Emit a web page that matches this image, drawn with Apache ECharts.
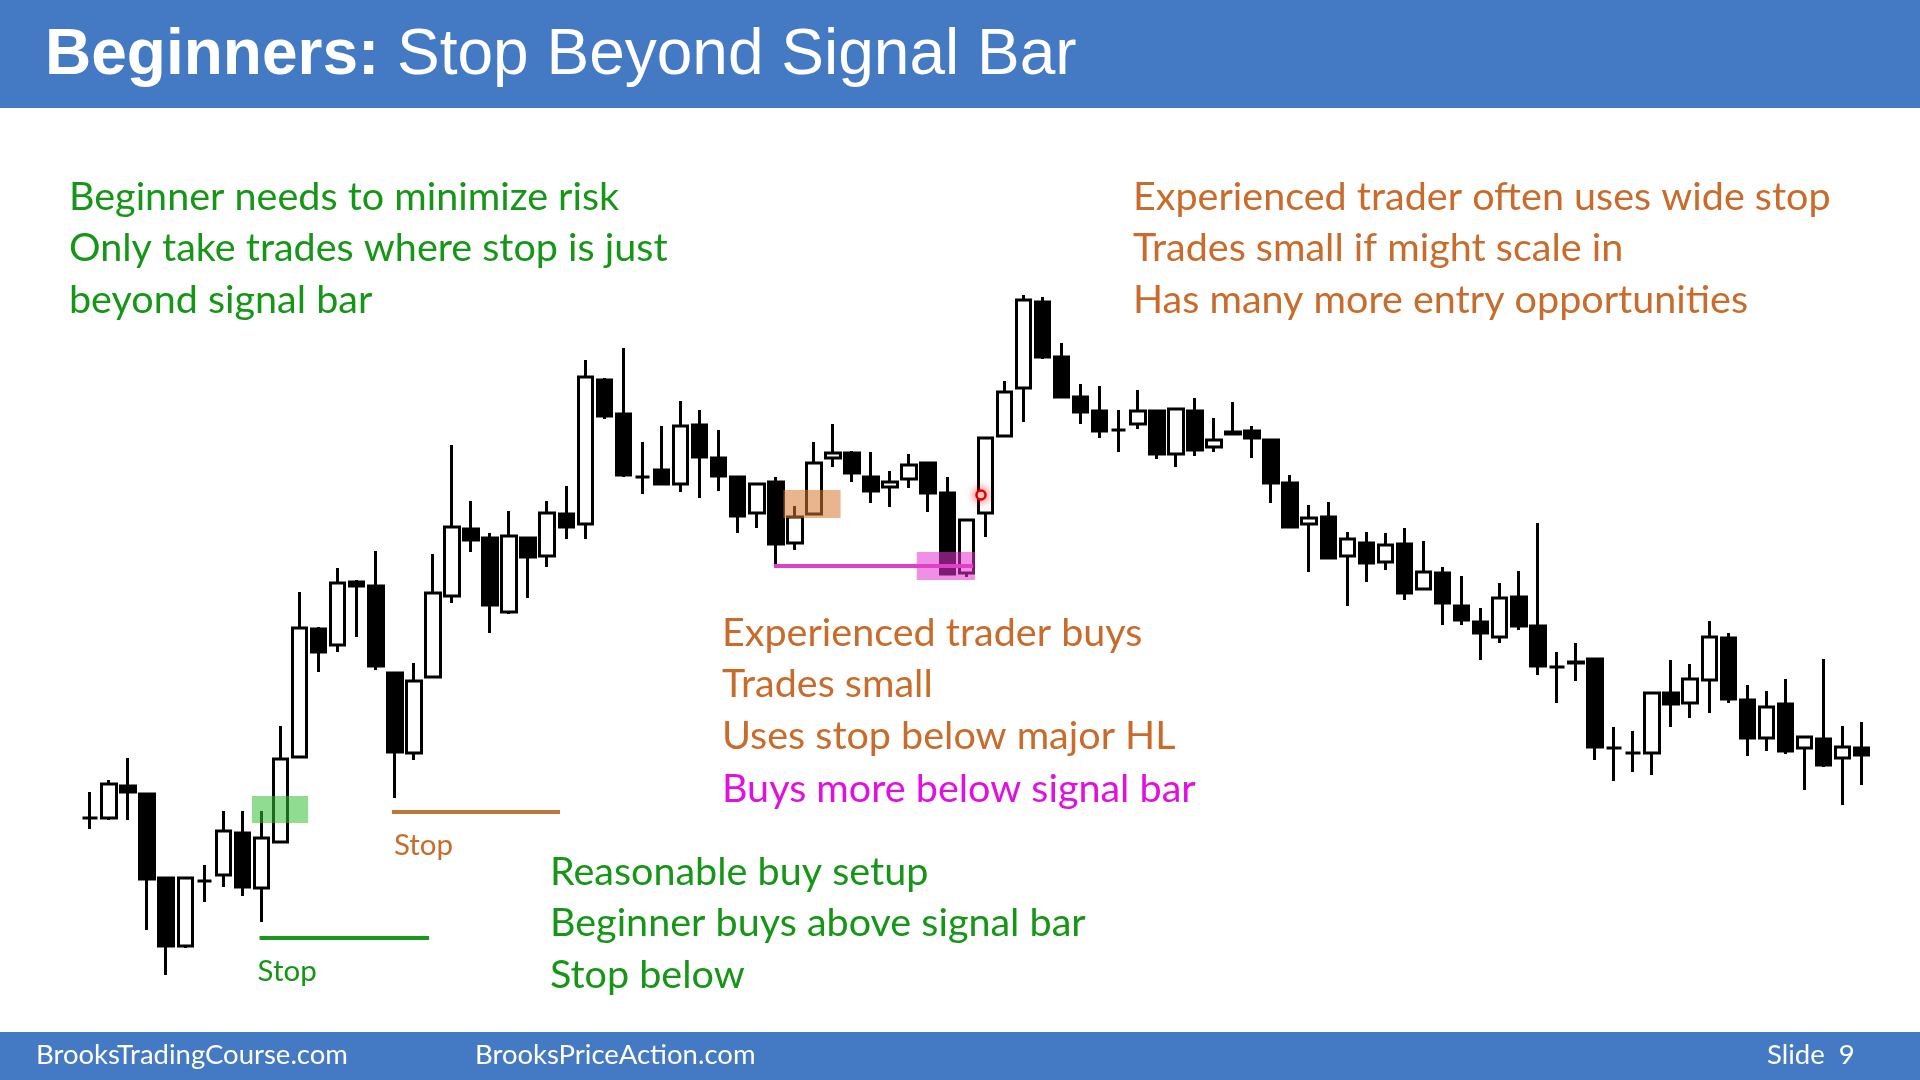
<!DOCTYPE html>
<html><head><meta charset="utf-8">
<script src="https://cdn.jsdelivr.net/npm/echarts@6/dist/echarts.min.js"></script>
<style>html,body{margin:0;padding:0;background:#fff}#c{width:1920px;height:1080px}</style>
</head><body><div id="c"></div>
<script>
// Price values (arbitrary units)
const opens  = [182,182,214,206,122,54,119,125,167,112,158,243,371,355,418,414,327,247,323,404,471,462,388,462,444,486,476,620,586,523,530,516,575,542,523,487,518,457,486,542,547,523,513,521,537,507,427,487,564,612,698,643,603,589,570,576,589,546,589,553,568,569,560,517,476,483,444,457,438,456,411,427,394,378,363,403,374,333,338,341,252,247,247,307,297,320,362,300,262,296,252,261,242,252];
const closes = [182,216,208,121,54,122,119,169,113,162,241,372,348,417,414,334,248,319,407,473,460,395,464,443,487,473,623,584,525,523,516,574,543,524,484,516,456,483,537,547,527,509,518,535,507,426,480,562,608,700,643,603,588,569,570,589,546,591,550,560,566,562,517,473,482,442,461,437,455,407,428,397,380,367,402,374,334,333,337,253,252,247,307,296,321,363,301,262,293,249,263,235,253,245];
const lows   = [171,180,180,70,25,52,98,113,104,78,158,243,328,348,363,330,202,240,323,397,448,367,386,402,433,461,461,581,523,506,515,508,502,509,467,472,434,450,486,533,518,497,493,512,488,426,423,463,564,578,641,603,576,562,548,571,541,533,544,548,565,542,497,472,428,442,394,418,430,400,410,375,375,340,357,370,325,297,319,240,219,228,225,273,282,287,297,244,249,246,210,233,195,215];
const highs  = [208,220,242,207,123,123,135,189,189,189,274,408,373,432,420,449,328,337,446,555,499,467,489,463,499,514,640,622,652,558,574,599,590,570,524,516,523,494,558,576,549,548,529,546,537,523,480,562,619,705,703,657,616,614,590,610,590,592,602,582,598,574,560,525,495,498,468,468,467,472,459,433,424,392,417,429,477,348,357,341,273,269,307,340,336,379,367,315,309,321,264,341,274,278];
const categories = opens.map((_, i) => 'Bar ' + (i + 1));

// Annotations in data coordinates: [barIndexStart, priceA, barIndexEnd, priceB]
const signalBox   = [8.5, 177, 11.45, 204];
const orangeBox   = [36.4, 482, 39.4, 510];
const magentaBox  = [43.4, 420, 46.45, 448];
const greenStop   = [8.9, 62, 17.8, 62];
const orangeStop  = [15.85, 188, 24.67, 188];
const magentaLine = [35.9, 434, 46.35, 434];
const redDot      = [46.77, 505];

const texts = {
  leftTop: ['Beginner needs to minimize risk', 'Only take trades where stop is just', 'beyond signal bar'],
  rightTop: ['Experienced trader often uses wide stop', 'Trades small if might scale in', 'Has many more entry opportunities'],
  middle: ['Experienced trader buys', 'Trades small', 'Uses stop below major HL'],
  middleMagenta: 'Buys more below signal bar',
  bottom: ['Reasonable buy setup', 'Beginner buys above signal bar', 'Stop below']
};

const GREEN = '#169616', ORANGE = '#C96B2A', MAGENTA = '#E010E0', BLUE = '#4479C4';
const FONT = 'Lato';

const chart = echarts.init(document.getElementById('c'), null, {renderer: 'canvas'});
const data = opens.map((o, i) => [o, closes[i], lows[i], highs[i]]);
chart.setOption({
  animation: false,
  backgroundColor: '#ffffff',
  grid: {left: 80.5, right: 48.8, top: 200, bottom: 80},
  xAxis: {type: 'category', data: categories, boundaryGap: true,
    axisLine: {show: false}, axisTick: {show: false}, axisLabel: {show: false}, splitLine: {show: false}},
  yAxis: {type: 'value', min: 0, max: 800, axisLine: {show: false}, axisTick: {show: false},
    axisLabel: {show: false}, splitLine: {show: false}},
  series: [{
    type: 'candlestick', data: data, barWidth: 15,
    itemStyle: {color: '#ffffff', color0: '#000000', borderColor: '#000000', borderColor0: '#000000',
      borderColorDoji: '#000000', borderWidth: 3}
  }]
});

const p0 = chart.convertToPixel({seriesIndex: 0}, [0, 0]);
const p1 = chart.convertToPixel({seriesIndex: 0}, [1, 100]);
const X = i => p0[0] + i * (p1[0] - p0[0]);
const Y = v => p0[1] + v * (p1[1] - p0[1]) / 100;

function box(b, fill) {
  const x0 = X(b[0]), x1 = X(b[2]), y0 = Y(b[1]), y1 = Y(b[3]);
  return {type: 'rect', z: 100, shape: {x: Math.min(x0, x1), y: Math.min(y0, y1), width: Math.abs(x1 - x0), height: Math.abs(y1 - y0)}, style: {fill: fill}};
}
function line(l, stroke, w) {
  return {type: 'line', z: 100, shape: {x1: X(l[0]), y1: Y(l[1]), x2: X(l[2]), y2: Y(l[3])}, style: {stroke: stroke, lineWidth: w}};
}
function txt(s, x, y, color, size, extra) {
  return Object.assign({type: 'text', z: 110, x: x, y: y,
    style: {text: s, fill: color, font: size + 'px ' + FONT, verticalAlign: 'middle', align: 'left'}}, extra || {});
}
const g = [];
g.push({type: 'rect', z: 90, shape: {x: 0, y: 0, width: 1920, height: 108}, style: {fill: BLUE}});
g.push({type: 'rect', z: 90, shape: {x: 0, y: 1032, width: 1920, height: 48}, style: {fill: BLUE}});
g.push({type: 'text', z: 110, x: 45, y: 56, style: {text: 'Beginners:', fill: '#fff', font: 'bold 64px "Liberation Sans"', verticalAlign: 'middle'}});
g.push({type: 'text', z: 110, x: 397, y: 56, style: {text: 'Stop Beyond Signal Bar', fill: '#fff', font: '64px "Liberation Sans"', verticalAlign: 'middle'}});
g.push(txt('BrooksTradingCourse.com', 36, 1055, '#fff', 27.5));
g.push(txt('BrooksPriceAction.com', 475, 1055, '#fff', 27.5));
g.push(txt('Slide  9', 1767, 1055, '#fff', 27.5));

g.push(box(signalBox, 'rgba(53,191,53,0.55)'));
g.push(box(orangeBox, 'rgba(215,120,50,0.55)'));
g.push(box(magentaBox, 'rgba(230,50,210,0.55)'));
g.push(line(greenStop, '#1A961A', 4));
g.push(line(orangeStop, '#C0783A', 4));
g.push(line(magentaLine, '#E040C8', 4));
g.push({type: 'circle', z: 120, shape: {cx: X(redDot[0]), cy: Y(redDot[1]), r: 4.5},
  style: {fill: '#fff', stroke: '#E00000', lineWidth: 2.5, shadowBlur: 10, shadowColor: 'rgba(255,0,0,0.8)'}});

const lh = 51.4, FS = 39.5;
texts.leftTop.forEach((s, i) => g.push(txt(s, 69, 197 + i * lh, GREEN, FS)));
texts.rightTop.forEach((s, i) => g.push(txt(s, 1133, 197 + i * lh, ORANGE, FS)));
texts.middle.forEach((s, i) => g.push(txt(s, 722, 633 + i * lh, ORANGE, FS)));
g.push(txt(texts.middleMagenta, 722, 789, MAGENTA, FS));
texts.bottom.forEach((s, i) => g.push(txt(s, 550, 872 + i * lh, GREEN, FS)));
g.push(txt('Stop', X(greenStop[0]) - 2, 971, GREEN, 29.5));
g.push(txt('Stop', X(orangeStop[0]) + 2, 845, ORANGE, 29.5));

chart.setOption({graphic: g});
</script></body></html>
